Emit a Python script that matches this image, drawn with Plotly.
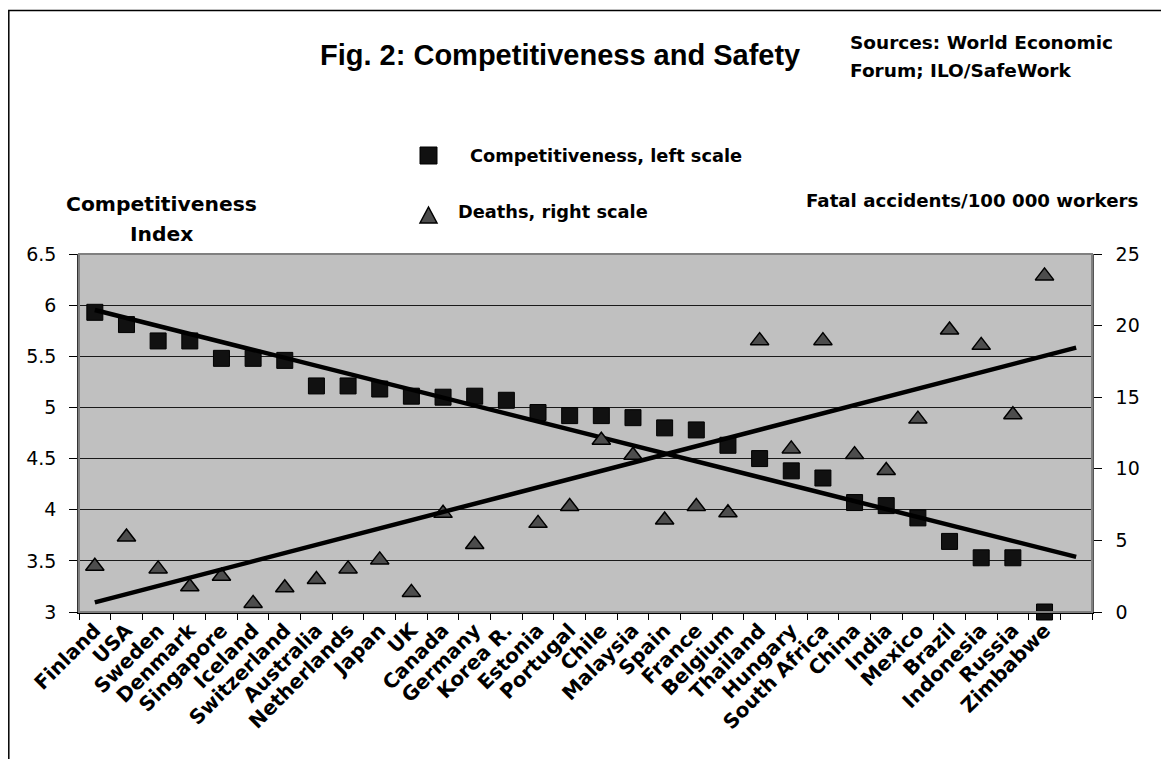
import numpy as np
import plotly.graph_objects as go

# ---------------- data ----------------
countries = ["Finland", "USA", "Sweden", "Denmark", "Singapore", "Iceland",
             "Switzerland", "Australia", "Netherlands", "Japan", "UK", "Canada",
             "Germany", "Korea R.", "Estonia", "Portugal", "Chile", "Malaysia",
             "Spain", "France", "Belgium", "Thailand", "Hungary", "South Africa",
             "China", "India", "Mexico", "Brazil", "Indonesia", "Russia", "Zimbabwe"]

competitiveness = [5.93, 5.81, 5.65, 5.65, 5.48, 5.48, 5.46, 5.21, 5.21, 5.18,
                   5.11, 5.10, 5.11, 5.07, 4.95, 4.92, 4.92, 4.90, 4.80, 4.78,
                   4.63, 4.50, 4.38, 4.31, 4.07, 4.04, 3.92, 3.69, 3.53, 3.53,
                   3.00]

# Korea R. lies above the right scale (not visible); estimated from the trend line
deaths = [3.2, 5.24, 3.01, 1.76, 2.5, 0.6, 1.69, 2.27, 3.01, 3.64,
          1.37, 6.89, 4.71, 31.4, 6.19, 7.37, 11.99, 10.95, 6.42, 7.37,
          6.93, 18.95, 11.39, 18.95, 10.99, 9.88, 13.47, 19.69, 18.62, 13.78,
          23.47]

left_ticks = [3, 3.5, 4, 4.5, 5, 5.5, 6, 6.5]
right_ticks = [0, 5, 10, 15, 20, 25]

# category axis with one extra empty slot at the end (trend lines reach it)
categories = countries + [" "]

# linear trend lines (Excel style, x = 1..n), extended to the extra slot
idx = np.arange(1, len(countries) + 1)
c_fit = np.polyfit(idx, competitiveness, 1)
d_fit = np.polyfit(idx, deaths, 1)
trend_x = [categories[0], categories[-1]]
trend_idx = np.array([1, len(categories)])
c_trend = np.polyval(c_fit, trend_idx)
d_trend = np.polyval(d_fit, trend_idx)

# ---------------- layout geometry ----------------
OFF = 8                      # page body margin of the html page
W, H = 1169 - OFF, 759 - OFF
L, R, T, B = 79, 1092, 254, 612   # plot area in screenshot pixels
TITLE_FONT = "Liberation Sans, Arial, sans-serif"
FONT = "DejaVu Sans, Verdana, sans-serif"


def px(x):
    return (x - L) / (R - L)


def py(y):
    return (B - y) / (B - T)


fig = go.Figure()

fig.add_trace(go.Scatter(
    x=countries, y=competitiveness, mode="markers", name="Competitiveness, left scale",
    marker=dict(symbol="square", size=16, color="#111111",
                line=dict(color="#000000", width=1)),
    cliponaxis=False, yaxis="y", showlegend=False))

fig.add_trace(go.Scatter(
    x=trend_x, y=c_trend, mode="lines", line=dict(color="#000000", width=4.5),
    yaxis="y", showlegend=False, hoverinfo="skip"))

fig.add_trace(go.Scatter(
    x=countries, y=deaths, mode="markers", name="Deaths, right scale",
    marker=dict(symbol="triangle-up", size=16, color="#4D4D4D",
                line=dict(color="#000000", width=1.5)),
    cliponaxis=True, yaxis="y2", showlegend=False))

fig.add_trace(go.Scatter(
    x=trend_x, y=d_trend, mode="lines", line=dict(color="#000000", width=4.5),
    yaxis="y2", showlegend=False, hoverinfo="skip"))

shapes = [
    # outer chart frame (right/bottom edges fall outside the picture)
    dict(type="rect", xref="paper", yref="paper",
         x0=px(OFF + 0.8), x1=px(1250), y0=py(850), y1=py(10.5),
         line=dict(color="#000000", width=1.5), layer="below"),
    # plot-area border
    dict(type="rect", xref="paper", yref="paper", x0=0, x1=1, y0=0, y1=1,
         line=dict(color="#808080", width=2), layer="above"),
    # legend symbols
    dict(type="rect", xref="paper", yref="paper",
         x0=px(420), x1=px(437), y0=py(164), y1=py(147),
         fillcolor="#111111", line=dict(color="#000000", width=1)),
    dict(type="path", xref="paper", yref="paper",
         path=f"M {px(420)},{py(223)} L {px(437)},{py(223)} L {px(428.5)},{py(207)} Z",
         fillcolor="#4D4D4D", line=dict(color="#000000", width=1.5)),
]

annotations = [
    dict(text="<b>Fig. 2: Competitiveness and Safety</b>", x=px(318), y=py(55),
         xanchor="left", yanchor="middle",
         font=dict(size=29, family=TITLE_FONT)),
    dict(text="<b>Sources: World Economic</b>", x=px(848), y=py(42),
         xanchor="left", yanchor="middle", font=dict(size=18.5, family=FONT)),
    dict(text="<b>Forum; ILO/SafeWork</b>", x=px(848), y=py(70),
         xanchor="left", yanchor="middle", font=dict(size=18.5, family=FONT)),
    dict(text="<b>Competitiveness, left scale</b>", x=px(468), y=py(155),
         xanchor="left", yanchor="middle", font=dict(size=17.8, family=FONT)),
    dict(text="<b>Deaths, right scale</b>", x=px(456), y=py(211),
         xanchor="left", yanchor="middle", font=dict(size=17.8, family=FONT)),
    dict(text="<b>Competitiveness</b>", x=px(161), y=py(204),
         xanchor="center", yanchor="middle", font=dict(size=20.3, family=FONT)),
    dict(text="<b>Index</b>", x=px(161), y=py(234),
         xanchor="center", yanchor="middle", font=dict(size=20.3, family=FONT)),
    dict(text="<b>Fatal accidents/100 000 workers</b>", x=px(1140), y=py(200),
         xanchor="right", yanchor="middle", font=dict(size=18.2, family=FONT)),
]
for a in annotations:
    a.update(xref="paper", yref="paper", showarrow=False)
    a["font"].update(color="#000000")

fig.update_layout(
    width=W, height=H,
    margin=dict(l=L - OFF, r=W - (R - OFF), t=T - OFF, b=H - (B - OFF), pad=0),
    paper_bgcolor="#FFFFFF", plot_bgcolor="#C0C0C0",
    font=dict(family=FONT, color="#000000"),
    shapes=shapes, annotations=annotations,
    xaxis=dict(type="category", categoryorder="array", categoryarray=categories,
               range=[-0.5, len(categories) - 0.5],
               tickson="boundaries", ticks="outside", ticklen=6, tickwidth=1,
               tickcolor="#000000", tickangle=-45, ticklabelstandoff=-3,
               tickfont=dict(family=FONT, size=20, color="#000000", weight="bold"),
               showline=True, linecolor="#000000", linewidth=1.5,
               showgrid=False, zeroline=False, fixedrange=True),
    yaxis=dict(range=[3, 6.5], tickmode="array", tickvals=left_ticks,
               ticks="outside", ticklen=8, tickwidth=1, tickcolor="#000000",
               ticklabelstandoff=9,
               tickfont=dict(family=FONT, size=19, color="#000000"),
               showline=True, linecolor="#333333", linewidth=1.5,
               showgrid=True, gridcolor="#1A1A1A", gridwidth=1,
               zeroline=False, fixedrange=True),
    yaxis2=dict(range=[0, 25], tickmode="array", tickvals=right_ticks,
                overlaying="y", side="right",
                ticks="outside", ticklen=8, tickwidth=1, tickcolor="#000000",
                ticklabelstandoff=10,
                tickfont=dict(family=FONT, size=19, color="#000000"),
                showline=True, linecolor="#555555", linewidth=1.5,
                showgrid=False, zeroline=False, fixedrange=True),
)

fig.write_html("out.html")
